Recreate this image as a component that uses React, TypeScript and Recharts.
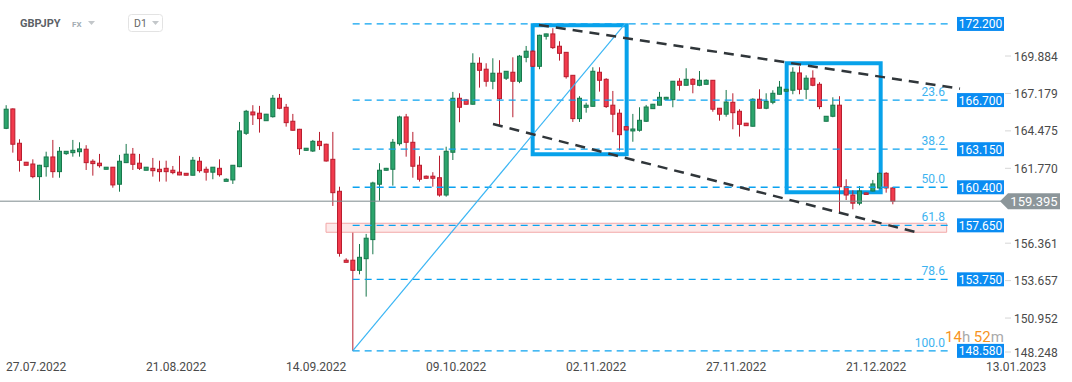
import React from 'react';
import { ComposedChart, Bar, XAxis, YAxis, ReferenceLine, ReferenceArea } from 'recharts';

// daily candles, 27.07.2022 .. 29.12.2022 (6 bars a week)
const openP = [
  164.66, 166.06, 163.58, 162.21, 162.08, 161.17, 161.89, 162.59, 161.53, 162.83,
  162.90, 162.97, 163.15, 162.28, 162.14, 161.70, 161.85, 160.62, 162.18, 162.79,
  162.14, 161.63, 161.77, 161.70, 161.77, 161.63, 161.49, 161.41, 161.27, 162.28,
  161.70, 161.49, 161.77, 160.83, 160.93, 161.89, 164.30, 165.84, 165.75, 165.21,
  165.50, 166.83, 166.18, 165.17, 164.59, 163.07, 163.02, 163.72, 163.51, 162.42,
  160.11, 155.13, 155.13, 154.40, 155.24, 156.62, 160.62, 161.63, 161.70, 163.55,
  165.48, 163.65, 161.99, 161.20, 161.20, 161.09, 159.84, 162.93, 166.83, 166.71,
  166.40, 169.36, 168.93, 168.06, 168.64, 168.28, 168.71, 168.06, 169.79, 170.23,
  169.14, 171.31, 171.48, 170.59, 170.15, 168.49, 165.36, 166.18, 166.25, 168.71,
  168.20, 166.33, 165.75, 164.78, 164.47, 164.52, 165.17, 166.08, 166.33, 166.76,
  166.73, 168.06, 167.77, 168.20, 167.77, 167.84, 168.13, 166.11, 165.68, 166.54,
  165.89, 165.03, 164.81, 166.76, 166.11, 166.54, 167.12, 167.34, 167.41, 168.66,
  167.48, 168.28, 167.84, 165.17, 165.53, 166.33, 160.44, 159.84, 159.25, 159.99,
  160.13, 160.35, 161.41, 160.35,
];
const highP = [
  166.33, 166.10, 163.87, 162.23, 162.42, 162.02, 162.97, 163.82, 163.31, 163.00,
  163.82, 163.65, 163.44, 162.42, 162.81, 161.85, 161.86, 162.74, 163.53, 163.24,
  162.81, 161.85, 162.52, 162.32, 162.32, 161.94, 162.67, 161.42, 162.59, 162.59,
  161.89, 161.86, 162.42, 161.05, 162.00, 165.12, 165.99, 166.33, 166.28, 165.70,
  167.07, 167.14, 166.42, 165.70, 164.62, 163.24, 163.82, 164.40, 163.55, 164.40,
  160.44, 155.27, 157.12, 156.30, 157.03, 160.80, 162.14, 161.80, 163.89, 165.57,
  165.70, 164.40, 162.64, 161.25, 161.49, 162.68, 163.33, 167.29, 167.19, 166.78,
  170.08, 169.79, 169.36, 169.72, 169.58, 168.80, 169.79, 169.96, 170.61, 170.30,
  171.42, 171.50, 171.89, 170.95, 170.17, 168.50, 166.98, 166.51, 169.07, 169.07,
  168.28, 167.36, 166.04, 164.80, 165.70, 166.18, 166.35, 166.42, 167.29, 166.93,
  168.08, 168.28, 169.00, 168.28, 168.80, 168.20, 168.15, 166.13, 167.43, 167.19,
  166.04, 165.05, 166.83, 167.48, 167.19, 167.41, 168.08, 167.50, 169.07, 169.14,
  168.49, 168.85, 167.99, 165.55, 166.90, 166.98, 160.98, 160.18, 160.49, 160.02,
  160.93, 161.46, 161.49, 160.42,
];
const lowP = [
  164.60, 162.90, 161.53, 161.98, 161.05, 159.48, 161.17, 161.09, 161.09, 162.74,
  162.61, 162.61, 161.65, 161.24, 161.82, 161.70, 160.37, 160.08, 162.15, 161.65,
  161.65, 161.63, 161.17, 160.81, 160.81, 161.34, 161.27, 161.26, 161.26, 161.46,
  160.88, 160.98, 161.17, 160.83, 160.64, 161.85, 164.18, 164.90, 164.35, 165.20,
  165.43, 166.04, 164.78, 164.50, 162.74, 163.05, 162.95, 163.10, 162.25, 159.05,
  155.39, 154.97, 148.58, 154.11, 152.50, 155.56, 159.43, 161.60, 160.52, 163.41,
  162.61, 161.09, 160.81, 161.03, 160.44, 159.72, 159.72, 162.37, 165.10, 166.38,
  166.38, 167.60, 167.67, 167.48, 164.83, 168.15, 165.46, 167.92, 169.43, 169.10,
  168.93, 171.07, 170.39, 169.55, 168.25, 165.12, 165.12, 165.79, 166.23, 167.31,
  166.13, 164.38, 163.05, 164.52, 163.69, 164.42, 165.12, 166.06, 166.31, 166.74,
  166.18, 167.38, 167.75, 167.19, 167.70, 167.82, 165.86, 165.21, 165.50, 164.59,
  164.06, 164.83, 164.79, 166.09, 166.04, 166.40, 167.10, 167.32, 167.12, 167.12,
  166.76, 167.70, 166.04, 165.15, 165.46, 158.52, 159.48, 158.81, 159.10, 159.88,
  160.10, 160.33, 160.01, 159.17,
];
const closeP = [
  166.04, 163.51, 162.35, 161.99, 161.17, 161.99, 162.59, 161.53, 163.00, 163.00,
  163.07, 163.17, 162.18, 162.11, 161.96, 161.85, 160.57, 162.28, 162.79, 162.06,
  161.77, 161.85, 161.60, 161.53, 161.53, 161.46, 161.29, 161.27, 162.35, 161.60,
  161.49, 161.85, 161.31, 160.98, 161.99, 164.47, 165.89, 165.63, 165.36, 165.68,
  166.83, 166.11, 165.07, 164.52, 163.19, 163.22, 163.72, 163.41, 162.30, 160.01,
  155.63, 154.98, 154.40, 155.34, 156.72, 160.71, 161.63, 161.77, 163.65, 165.48,
  163.65, 161.92, 160.98, 161.05, 161.05, 159.84, 163.00, 166.83, 166.18, 166.40,
  169.36, 168.85, 168.06, 168.64, 166.80, 168.78, 168.06, 169.87, 170.23, 169.14,
  171.38, 171.48, 170.49, 170.08, 168.39, 165.36, 166.83, 166.33, 168.78, 168.13,
  166.23, 165.68, 164.20, 164.54, 164.61, 165.24, 166.20, 166.40, 166.90, 166.90,
  168.06, 167.77, 168.20, 167.84, 168.13, 168.13, 166.04, 165.68, 166.56, 165.79,
  164.95, 164.85, 166.76, 166.11, 166.61, 167.19, 167.63, 167.48, 168.71, 167.48,
  168.28, 167.77, 166.23, 165.53, 166.33, 160.44, 159.84, 159.25, 160.13, 159.90,
  160.64, 161.41, 160.35, 159.40,
];

const dateTicks = [0, 21, 42, 63, 84, 105, 126, 147];
const dateLabels = ['27.07.2022', '21.08.2022', '14.09.2022', '09.10.2022', '02.11.2022', '27.11.2022', '21.12.2022', '13.01.2023'];
const priceTicks = [148.248, 150.952, 153.657, 156.361, 161.77, 164.475, 167.179, 169.884];

const fibPct = ['', '23.6', '38.2', '50.0', '61.8', '78.6', '100.0'];
const fibPrice = [172.2, 166.7, 163.15, 160.4, 157.65, 153.75, 148.58];
const lastPrice = 159.395;

const candles = openP.map((o, i) => ({ i, open: o, high: highP[i], low: lowP[i], close: closeP[i] }));

const Candle = (props: any) => {
  const { x, y, width, height, payload } = props;
  if (x == null || !payload) return null;
  const { open, close, high, low } = payload;
  const up = close >= open;
  const top = Math.min(y, y + height);
  const h = Math.abs(height);
  const k = h / (high - low || 1);
  const cx = x + width / 2;
  const bTop = top + (high - Math.max(open, close)) * k;
  const bH = Math.max(Math.abs(open - close) * k, 1.5);
  const edge = up ? '#17774b' : '#b81d2e';
  const fill = up ? '#2ba56c' : '#f23a4c';
  return (
    <g>
      <line x1={cx} x2={cx} y1={top} y2={top + h} stroke={edge} strokeWidth={1} />
      <rect x={x + 0.5} y={bTop} width={width - 1} height={bH} fill={fill} stroke={edge} strokeWidth={1} />
    </g>
  );
};

const DateTick = (props: any) => {
  const { x, y, payload } = props;
  const label = dateLabels[dateTicks.indexOf(payload.value)];
  return (
    <text x={x} y={y + 13} fill="#4a4a4a" fontSize={12} fontFamily="Roboto">{label}</text>
  );
};

const PriceTick = (props: any) => {
  const { x, y, payload } = props;
  const ty = Math.min(y, 352);
  return (
    <g>
      <line x1={x} x2={x + 6} y1={ty} y2={ty} stroke="#d6d6d6" />
      <text x={x + 9} y={ty + 4.5} fill="#4a4a4a" fontSize={12} fontFamily="Roboto">{payload.value.toFixed(3)}</text>
    </g>
  );
};

const FibTag = (props: any) => {
  const vb = props.viewBox;
  if (!vb) return null;
  const right = vb.x + vb.width;
  const y = vb.y;
  return (
    <g fontFamily="Roboto" fontSize={12}>
      {props.pct ? (
        <text x={right - 5} y={y - 4} textAnchor="end" fill="#3db3f0">{props.pct}</text>
      ) : null}
      <rect x={right + 7} y={y - 7} width={47} height={14} fill="#0a8cf2" />
      <text x={right + 30.5} y={y + 4.5} textAnchor="middle" fill="#ffffff">{props.value}</text>
    </g>
  );
};

const PriceTag = (props: any) => {
  const vb = props.viewBox;
  if (!vb) return null;
  const x0 = vb.x + vb.width - 3;
  const y = vb.y;
  return (
    <g>
      <polygon points={`${x0},${y} ${x0 + 8},${y - 8} ${x0 + 60},${y - 8} ${x0 + 60},${y + 8} ${x0 + 8},${y + 8}`} fill="#8c969a" />
      <text x={x0 + 34} y={y + 5} textAnchor="middle" fill="#ffffff" fontSize={13} fontFamily="Roboto">{lastPrice.toFixed(3)}</text>
    </g>
  );
};

export default function App() {
  return (
    <div style={{ position: 'absolute', left: 0, top: 0, width: 1072, height: 382, background: '#fff', fontFamily: 'Roboto' }}>
      <ComposedChart width={1072} height={382} data={candles} margin={{ top: 0, right: 0, bottom: 0, left: 0 }}>
        <XAxis
          type="number"
          dataKey="i"
          domain={[-0.9, 149.55]}
          allowDataOverflow
          ticks={dateTicks}
          tick={<DateTick />}
          axisLine={false}
          tickLine={false}
          tickSize={0}
          height={26}
          interval={0}
        />
        <YAxis
          orientation="right"
          domain={[148.21, 173.93]}
          allowDataOverflow
          ticks={priceTicks}
          tick={<PriceTick />}
          axisLine={false}
          tickLine={false}
          tickSize={0}
          width={69}
          interval={0}
        />
        <Bar dataKey={(d: any) => [d.low, d.high]} barSize={5} shape={<Candle />} isAnimationActive={false} />

        <ReferenceLine y={lastPrice} stroke="#7d8a8e" strokeWidth={1} label={<PriceTag />} />

        <ReferenceArea x1={48} x2={141.1} y1={157.15} y2={157.8} fill="#fbd3d3" fillOpacity={0.5} stroke="#f2a8a8" strokeWidth={1} />

        {fibPrice.map((p, k) => (
          <ReferenceLine
            key={p}
            segment={[{ x: 52, y: p }, { x: 141.6, y: p }]}
            stroke="#0aa2f0"
            strokeWidth={1.3}
            strokeDasharray="7 5"
            label={<FibTag pct={fibPct[k]} value={p.toFixed(3)} />}
          />
        ))}

        <ReferenceLine segment={[{ x: 52, y: 148.58 }, { x: 92.85, y: 172.2 }]} stroke="#3ab5f4" strokeWidth={1.2} />

        <ReferenceLine segment={[{ x: 79.95, y: 172.13 }, { x: 143.1, y: 167.52 }]} stroke="#30363a" strokeWidth={2.5} strokeDasharray="10 7" />
        <ReferenceLine segment={[{ x: 73.05, y: 164.97 }, { x: 137.1, y: 157.08 }]} stroke="#30363a" strokeWidth={2.5} strokeDasharray="10 7" />

        <ReferenceArea x1={79} x2={93.1} y1={162.79} y2={172.11} fill="none" stroke="#08a2ea" strokeWidth={4} />
        <ReferenceArea x1={117.1} x2={131.2} y1={160.04} y2={169.36} fill="none" stroke="#08a2ea" strokeWidth={4} />
      </ComposedChart>

      <svg width={1072} height={382} style={{ position: 'absolute', left: 0, top: 0, pointerEvents: 'none' }}>
        <text x={20} y={27.3} fontSize={11} fontWeight={700} fill="#5c6166" fontFamily="Roboto">GBPJPY</text>
        <text x={72} y={26.8} fontSize={8} fontWeight={700} fill="#a3adb3" fontFamily="Roboto">FX</text>
        <polygon points="88,21 95,21 91.5,25" fill="#c3c7ca" />
        <rect x={128.5} y={14.5} width={34} height={17} rx={3} fill="none" stroke="#e3e3e3" />
        <text x={134} y={27} fontSize={10.5} fill="#666" fontFamily="Roboto">D1</text>
        <polygon points="152,21 159,21 155.5,25" fill="#c3c7ca" />
        <text x={945} y={341.7} fontSize={15} fontFamily="Roboto">
          <tspan fill="#f7931e">14</tspan>
          <tspan fill="#aaaaaa">h </tspan>
          <tspan fill="#f7931e">52</tspan>
          <tspan fill="#aaaaaa">m</tspan>
        </text>
      </svg>
    </div>
  );
}
